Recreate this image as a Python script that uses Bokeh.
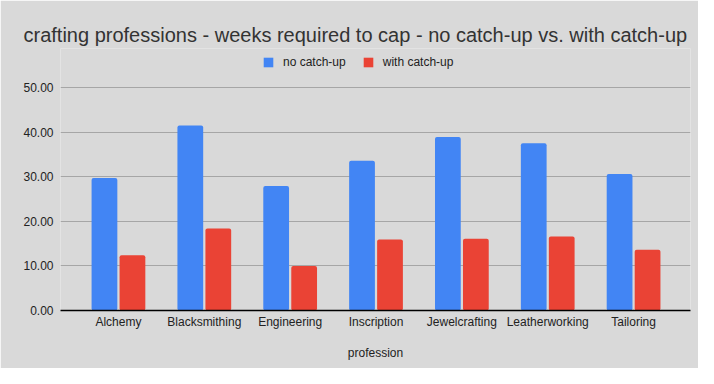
from bokeh.plotting import figure
from bokeh.models import (Range1d, Legend, LegendItem, NumeralTickFormatter,
                          FixedTicker, ColumnDataSource)
from bokeh.transform import dodge
from bokeh.embed import file_html
from bokeh.resources import INLINE

professions = ["Alchemy", "Blacksmithing", "Engineering", "Inscription",
               "Jewelcrafting", "Leatherworking", "Tailoring"]
no_catchup = [29.7, 41.5, 27.9, 33.6, 38.9, 37.5, 30.6]
with_catchup = [12.4, 18.4, 10.0, 15.9, 16.1, 16.6, 13.6]
y_ticks = [0, 10, 20, 30, 40, 50]
series_names = ["no catch-up", "with catch-up"]

BLUE = "#4285f4"
RED = "#ea4335"
BG = "#d9d9d9"
FONT = "Liberation Sans"

idx = list(range(len(professions)))
src = ColumnDataSource(dict(idx=idx, prof=professions, a=no_catchup, b=with_catchup))

p = figure(width=698, height=368, output_backend="svg", toolbar_location=None,
           x_range=Range1d(-0.675, 6.663), y_range=Range1d(0, 58.74),
           min_border_left=60, min_border_right=8, min_border_top=48,
           min_border_bottom=58)
p.background_fill_color = BG
p.border_fill_color = BG
p.outline_line_color = None

r1 = p.vbar(x=dodge("idx", -0.163, range=p.x_range), top="a", width=0.30, source=src,
            fill_color=BLUE, line_color=None, border_radius=2)
r2 = p.vbar(x=dodge("idx", 0.163, range=p.x_range), top="b", width=0.30, source=src,
            fill_color=RED, line_color=None, border_radius=2)

p.title.text = "crafting professions - weeks required to cap - no catch-up vs. with catch-up"
p.title.text_font = FONT
p.title.text_font_size = "20px"
p.title.text_font_style = "normal"
p.title.text_color = "#333333"
p.title.align = "left"
p.title.offset = -37
p.title.standoff = 6

p.xaxis.ticker = FixedTicker(ticks=idx)
p.xaxis.major_label_overrides = {i: n for i, n in zip(idx, professions)}
p.xaxis.axis_line_color = "#000000"
p.xaxis.axis_line_width = 1.3
p.xaxis.major_tick_line_color = None
p.xaxis.minor_tick_line_color = None
p.xaxis.major_tick_out = 0
p.xaxis.major_tick_in = 0
p.xaxis.major_label_text_font = FONT
p.xaxis.major_label_text_font_size = "12px"
p.xaxis.major_label_text_color = "#222222"
p.xaxis.major_label_standoff = 4
p.xaxis.axis_label = "profession"
p.xaxis.axis_label_text_font = FONT
p.xaxis.axis_label_text_font_size = "12px"
p.xaxis.axis_label_text_font_style = "normal"
p.xaxis.axis_label_text_color = "#222222"
p.xaxis.axis_label_standoff = 14

p.yaxis.ticker = FixedTicker(ticks=y_ticks)
p.yaxis.formatter = NumeralTickFormatter(format="0.00")
p.yaxis.axis_line_color = None
p.yaxis.major_tick_line_color = None
p.yaxis.minor_tick_line_color = None
p.yaxis.major_tick_out = 0
p.yaxis.major_tick_in = 0
p.yaxis.major_label_text_font = FONT
p.yaxis.major_label_text_font_size = "12px"
p.yaxis.major_label_text_color = "#222222"
p.yaxis.major_label_standoff = 7

p.xgrid.grid_line_color = None
p.ygrid.grid_line_color = "#a6a6a6"
p.ygrid.grid_line_width = 1

legend = Legend(items=[LegendItem(label=series_names[0], renderers=[r1]),
                       LegendItem(label=series_names[1], renderers=[r2])],
                orientation="horizontal", location=(202, 241),
                glyph_width=12, glyph_height=12, label_height=12,
                label_standoff=9, spacing=16, padding=0, margin=0,
                background_fill_alpha=0, border_line_color=None,
                label_text_font=FONT, label_text_font_size="12px",
                label_text_color="#222222")
p.add_layout(legend, "center")

open("out.html", "w").write(file_html(p, INLINE))
